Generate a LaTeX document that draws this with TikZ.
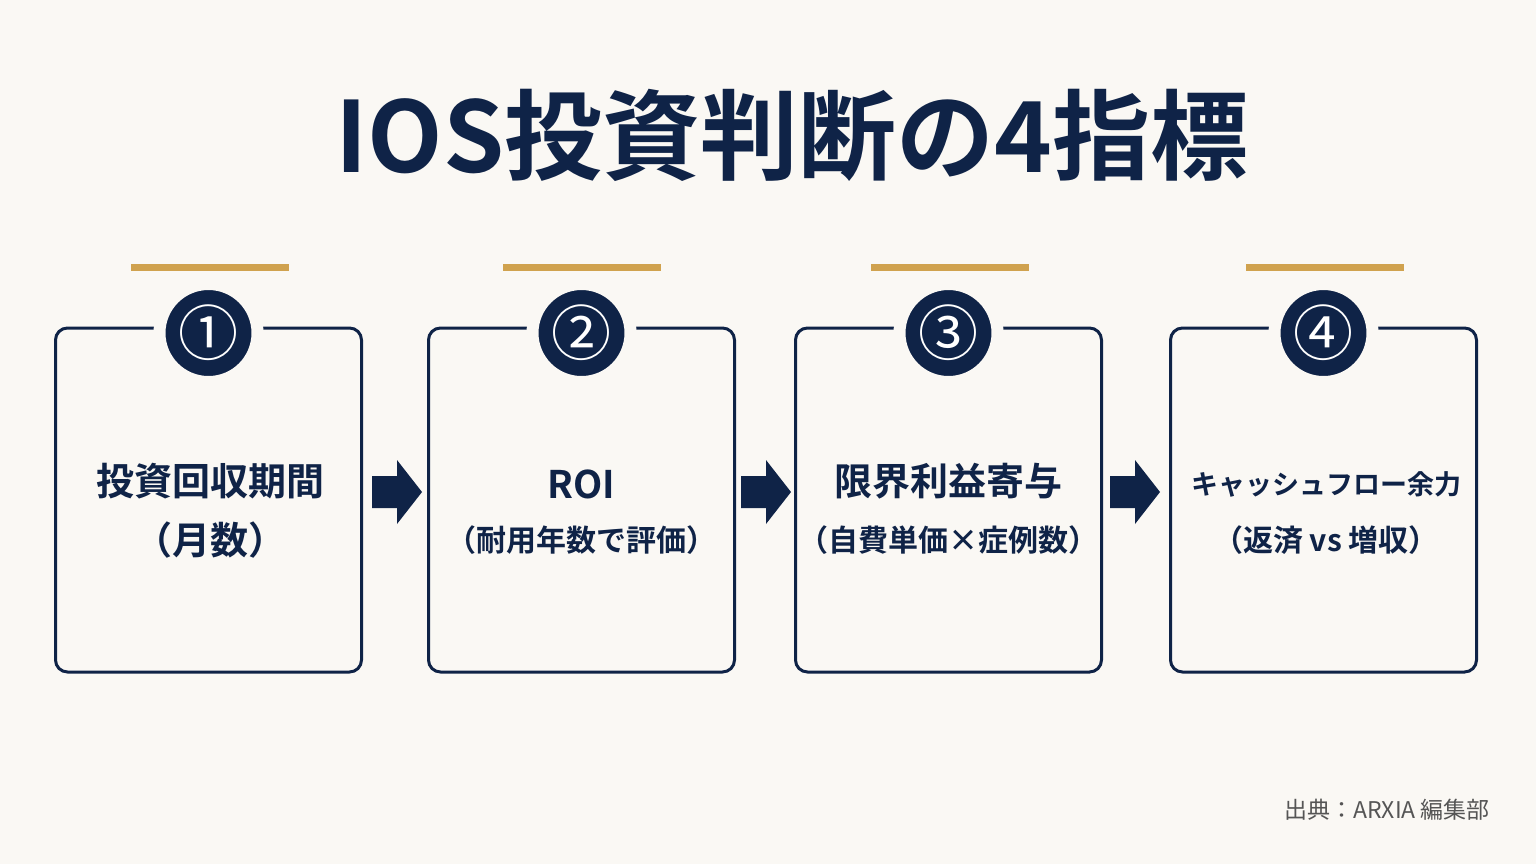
\documentclass[tikz,border=0pt]{standalone}
\usepackage{fontspec}
\setmainfont{Noto Sans CJK JP}[BoldFont={* Bold}]
\definecolor{navy}{HTML}{0F2347}
\definecolor{gold}{HTML}{D0A24E}
\definecolor{bg}{HTML}{FAF8F4}
\definecolor{foot}{HTML}{555555}
\begin{document}
\begin{tikzpicture}[x=0.5pt,y=-0.5pt,
  box/.style={draw=navy,line width=1.5pt,rounded corners=6pt,minimum width=153pt,minimum height=172pt,inner sep=0pt},
  num/.style={circle,fill=navy,draw=bg,line width=6pt,minimum size=49pt,inner sep=0pt,text=white,font=\fontsize{30}{30}\selectfont},
  gold/.style={draw=gold,line width=3.5pt},
  arr/.style={fill=navy},
  t1/.style={text=navy,font=\bfseries\fontsize{19}{22}\selectfont},
  t2/.style={text=navy,font=\bfseries\fontsize{15}{18}\selectfont}]
\fill[bg] (0,0) rectangle (1536,864);
\useasboundingbox (0,0) rectangle (1536,864);
\node[text=navy,font=\bfseries\fontsize{49}{52}\selectfont] (title) at (792,135) {IOS投資判断の4指標};
\foreach \i/\cx/\gx in {1/208.5/210,2/581.5/582,3/948.5/950,4/1323.5/1325}{
  \node[box] (b\i) at (\cx,500) {};
  \node[num] (n\i) at (\cx,333) {};
  \draw[gold] (\gx-79,267) -- (\gx+79,267);
}
\node[num,draw=none,fill=none] at (n1) {①};
\node[num,draw=none,fill=none] at (n2) {②};
\node[num,draw=none,fill=none] at (n3) {③};
\node[num,draw=none,fill=none] at (n4) {④};
\node[t1] (a1) at (210,481) {投資回収期間};
\node[t1] (a2) at (210,540) {（月数）};
\node[t1] (c1) at (581,484) {ROI};
\node[t2] (c2) at (581,540) {（耐用年数で評価）};
\node[t1] (d1) at (948,481) {限界利益寄与};
\node[t2] (d2) at (948,540) {（自費単価×症例数）};
\node[t1,font=\bfseries\fontsize{13.5}{20}\selectfont] (e1) at (1326,484) {キャッシュフロー余力};
\node[t2] (e2) at (1326,540) {（返済 vs 増収）};
\foreach \x in {372,741,1110}{
  \fill[arr] (\x,476) -- (\x+25,476) -- (\x+25,460) -- (\x+50,492) -- (\x+25,524) -- (\x+25,508) -- (\x,508) -- cycle;
}
\node[anchor=east,text=foot,font=\fontsize{11.5}{13}\selectfont] (src) at (1497,810) {出典：ARXIA 編集部};
\end{tikzpicture}
\end{document}
